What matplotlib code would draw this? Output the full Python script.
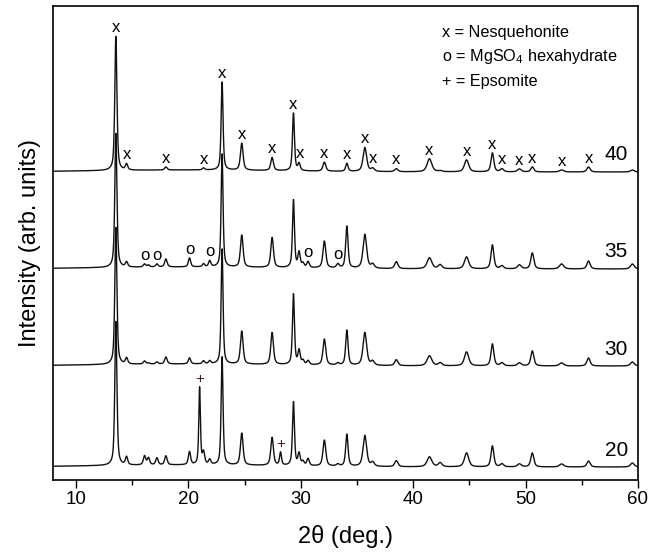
import numpy as np
import matplotlib.pyplot as plt
from matplotlib.ticker import MultipleLocator

plt.rcParams['font.family'] = ['Liberation Sans', 'DejaVu Sans']
plt.rcParams['mathtext.default'] = 'regular'

# reflections: 2theta position (deg) and FWHM (deg)
peak_pos = [13.55, 14.50, 16.10, 16.45, 17.20, 18.00, 20.10, 21.00, 21.35, 21.90,
            23.00, 24.75, 27.45, 28.20, 29.35, 29.85, 30.20, 30.65, 32.10, 33.30,
            34.10, 35.70, 36.40, 38.50, 41.45, 42.40, 44.75, 47.05, 47.90, 49.45,
            50.60, 53.20, 55.60, 59.50]
peak_fwhm = [0.22, 0.24, 0.25, 0.25, 0.25, 0.26, 0.24, 0.17, 0.24, 0.24,
             0.20, 0.28, 0.28, 0.20, 0.21, 0.24, 0.24, 0.26, 0.30, 0.30,
             0.25, 0.38, 0.34, 0.34, 0.50, 0.40, 0.45, 0.30, 0.34, 0.40,
             0.32, 0.45, 0.34, 0.40]

# peak heights per sample (arb. units)
h20 = [145, 8, 9, 7, 7, 9, 13, 77, 12, 5,
       108, 32, 28, 13, 64, 12, 4, 7, 26, 2,
       32, 31, 4, 6, 10, 4, 14, 21, 3, 3,
       14, 3, 6, 4]
h30 = [138, 6, 3, 1, 2, 7, 6, 0, 3, 3,
       115, 33, 32, 0, 71, 14, 4, 4, 26, 2,
       35, 33, 4, 6, 10, 3, 14, 22, 3, 3,
       15, 3, 8, 4]
h35 = [135, 5, 3, 2, 3, 8, 9, 0, 3, 6,
       113, 32, 30, 0, 68, 15, 4, 6, 27, 4,
       42, 34, 4, 7, 11, 4, 12, 24, 3, 4,
       16, 5, 8, 5]
h40 = [135, 6, 0, 0, 0, 3, 0, 0, 2, 0,
       88, 27, 13, 0, 58, 7, 0, 0, 9, 0,
       8, 24, 3, 3, 13, 1, 12, 19, 3, 3,
       5, 2, 5, 2]

samples = ['20', '30', '35', '40']
heights = [h20, h30, h35, h40]
offsets = [13, 114, 211, 308]

# phase assignments
nesq_marks = [13.55, 14.5, 18.0, 21.35, 23.0, 24.75, 27.45, 29.35, 29.95, 32.1,
              34.1, 35.7, 36.4, 38.5, 41.45, 44.75, 47.05, 47.9, 49.45, 50.6,
              53.2, 55.6]
hexa_marks = [16.1, 17.2, 20.1, 21.9, 30.65, 33.3]
epso_marks = [21.0, 28.2]

tt = np.linspace(8, 60, 2601)


def pattern(h):
    y = np.zeros_like(tt)
    for p, w, a in zip(peak_pos, peak_fwhm, h):
        u = (tt - p) / (w / 2)
        y += a * (0.6 / (1 + u ** 2) + 0.4 * np.exp(-np.log(2) * u ** 2))
    # weak amorphous background
    y += 2.0 * np.exp(-((tt - 20) / 12) ** 2)
    return y


def mark(ax, y, positions, sym, **kw):
    for p in positions:
        top = y[np.abs(tt - p) < 0.15].max()
        ax.annotate(sym, (p, top), xytext=(0, 3), textcoords='offset points',
                    ha='center', va='baseline', **kw)


fig = plt.figure(figsize=(6.5, 5.59), dpi=100)
ax = fig.add_axes([0.0823, 0.1413, 0.8992, 0.848])

curves = {}
for name, h, off in zip(samples, heights, offsets):
    y = pattern(h) + off
    curves[name] = y
    ax.plot(tt, y, color='#111111', lw=1.0)
    ax.text(59.1, off + 17, name, ha='right', va='center', fontsize=15)

mark(ax, curves['40'], nesq_marks, 'x', fontsize=12)
mark(ax, curves['35'], hexa_marks, 'o', fontsize=12)
mark(ax, curves['20'], epso_marks, '+', fontsize=11, color='#4a1c1c')

ax.text(0.665, 0.9346, 'x = Nesquehonite', transform=ax.transAxes, fontsize=11.7)
ax.text(0.665, 0.884, 'o = MgSO$_4$ hexahydrate', transform=ax.transAxes, fontsize=11.7)
ax.text(0.665, 0.831, '+ = Epsomite', transform=ax.transAxes, fontsize=11.7)

ax.set_xlim(8, 60)
ax.set_ylim(0, 474)
ax.set_xticks(range(10, 61, 10))
ax.xaxis.set_minor_locator(MultipleLocator(5))
ax.set_yticks([])
ax.tick_params(axis='x', which='major', direction='out', length=6, width=1, pad=2, labelsize=13.5)
ax.tick_params(axis='x', which='minor', direction='out', length=3.5, width=1)
for s in ax.spines.values():
    s.set_linewidth(1.2)

ax.set_xlabel('2θ (deg.)', fontsize=17, labelpad=12)
ax.set_ylabel('Intensity (arb. units)', fontsize=17, labelpad=9)

fig.savefig('out.png', dpi=100)
